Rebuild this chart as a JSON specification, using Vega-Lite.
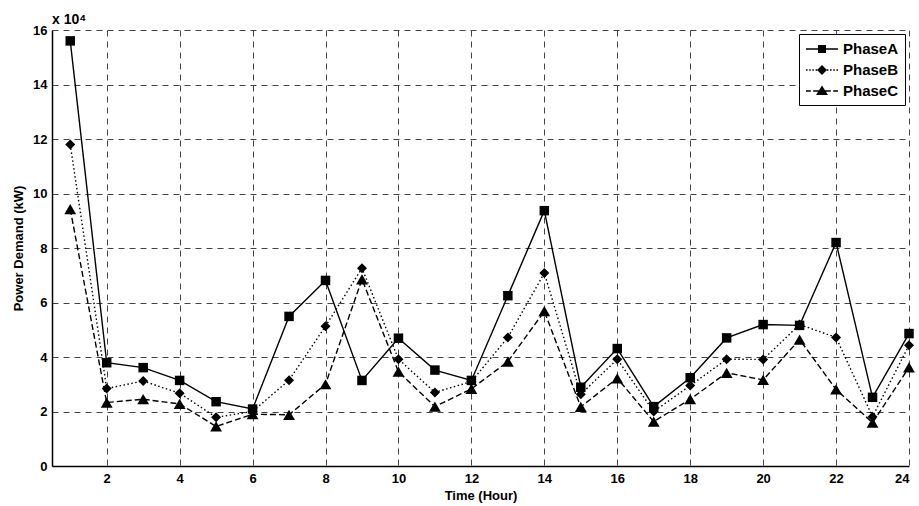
{
  "$schema": "https://vega.github.io/schema/vega-lite/v6.json",
  "width": 857,
  "height": 436,
  "autosize": "none",
  "padding": {"left": 52, "top": 30, "right": 10, "bottom": 40},
  "background": "white",
  "title": {"text": "x 10⁴", "anchor": "start", "frame": "group", "fontSize": 14, "fontWeight": "bold", "font": "Liberation Sans", "color": "black", "offset": -3},
  "config": {
    "view": {"stroke": null},
    "font": "Liberation Sans",
    "axis": {
      "labelFont": "Liberation Sans", "labelFontSize": 13, "labelFontWeight": "bold", "labelColor": "black",
      "titleFont": "Liberation Sans", "titleFontSize": 13, "titleFontWeight": "bold", "titleColor": "black",
      "domainColor": "black", "domainWidth": 1.5, "ticks": false,
      "grid": true, "gridDash": [6, 5], "gridColor": "#444", "gridWidth": 1, "gridOpacity": 1
    },
    "legend": {
      "labelFont": "Liberation Sans", "labelFontSize": 15, "labelFontWeight": "bold", "labelColor": "black"
    }
  },
  "data": {
    "values": [
      {"hour": 1, "phase": "PhaseA", "kW": 156000}, {"hour": 2, "phase": "PhaseA", "kW": 37900}, {"hour": 3, "phase": "PhaseA", "kW": 36100}, {"hour": 4, "phase": "PhaseA", "kW": 31400},
      {"hour": 5, "phase": "PhaseA", "kW": 23600}, {"hour": 6, "phase": "PhaseA", "kW": 20900}, {"hour": 7, "phase": "PhaseA", "kW": 54900}, {"hour": 8, "phase": "PhaseA", "kW": 68100},
      {"hour": 9, "phase": "PhaseA", "kW": 31400}, {"hour": 10, "phase": "PhaseA", "kW": 46900}, {"hour": 11, "phase": "PhaseA", "kW": 35200}, {"hour": 12, "phase": "PhaseA", "kW": 31400},
      {"hour": 13, "phase": "PhaseA", "kW": 62500}, {"hour": 14, "phase": "PhaseA", "kW": 93700}, {"hour": 15, "phase": "PhaseA", "kW": 28900}, {"hour": 16, "phase": "PhaseA", "kW": 43100},
      {"hour": 17, "phase": "PhaseA", "kW": 21800}, {"hour": 18, "phase": "PhaseA", "kW": 32400}, {"hour": 19, "phase": "PhaseA", "kW": 47000}, {"hour": 20, "phase": "PhaseA", "kW": 51900},
      {"hour": 21, "phase": "PhaseA", "kW": 51600}, {"hour": 22, "phase": "PhaseA", "kW": 82000}, {"hour": 23, "phase": "PhaseA", "kW": 25200}, {"hour": 24, "phase": "PhaseA", "kW": 48600},
      {"hour": 1, "phase": "PhaseB", "kW": 118000}, {"hour": 2, "phase": "PhaseB", "kW": 28400}, {"hour": 3, "phase": "PhaseB", "kW": 31200}, {"hour": 4, "phase": "PhaseB", "kW": 26700},
      {"hour": 5, "phase": "PhaseB", "kW": 17900}, {"hour": 6, "phase": "PhaseB", "kW": 20000}, {"hour": 7, "phase": "PhaseB", "kW": 31500}, {"hour": 8, "phase": "PhaseB", "kW": 51300},
      {"hour": 9, "phase": "PhaseB", "kW": 72600}, {"hour": 10, "phase": "PhaseB", "kW": 39200}, {"hour": 11, "phase": "PhaseB", "kW": 27000}, {"hour": 12, "phase": "PhaseB", "kW": 31000},
      {"hour": 13, "phase": "PhaseB", "kW": 47200}, {"hour": 14, "phase": "PhaseB", "kW": 70800}, {"hour": 15, "phase": "PhaseB", "kW": 26300}, {"hour": 16, "phase": "PhaseB", "kW": 39200},
      {"hour": 17, "phase": "PhaseB", "kW": 20000}, {"hour": 18, "phase": "PhaseB", "kW": 29500}, {"hour": 19, "phase": "PhaseB", "kW": 39200}, {"hour": 20, "phase": "PhaseB", "kW": 39100},
      {"hour": 21, "phase": "PhaseB", "kW": 51900}, {"hour": 22, "phase": "PhaseB", "kW": 47200}, {"hour": 23, "phase": "PhaseB", "kW": 18100}, {"hour": 24, "phase": "PhaseB", "kW": 44300},
      {"hour": 1, "phase": "PhaseC", "kW": 94300}, {"hour": 2, "phase": "PhaseC", "kW": 23300}, {"hour": 3, "phase": "PhaseC", "kW": 24500}, {"hour": 4, "phase": "PhaseC", "kW": 22800},
      {"hour": 5, "phase": "PhaseC", "kW": 14500}, {"hour": 6, "phase": "PhaseC", "kW": 19000}, {"hour": 7, "phase": "PhaseC", "kW": 18800}, {"hour": 8, "phase": "PhaseC", "kW": 30000},
      {"hour": 9, "phase": "PhaseC", "kW": 68500}, {"hour": 10, "phase": "PhaseC", "kW": 34600}, {"hour": 11, "phase": "PhaseC", "kW": 21800}, {"hour": 12, "phase": "PhaseC", "kW": 28300},
      {"hour": 13, "phase": "PhaseC", "kW": 38300}, {"hour": 14, "phase": "PhaseC", "kW": 56800}, {"hour": 15, "phase": "PhaseC", "kW": 21700}, {"hour": 16, "phase": "PhaseC", "kW": 32200},
      {"hour": 17, "phase": "PhaseC", "kW": 16300}, {"hour": 18, "phase": "PhaseC", "kW": 24500}, {"hour": 19, "phase": "PhaseC", "kW": 34200}, {"hour": 20, "phase": "PhaseC", "kW": 31600},
      {"hour": 21, "phase": "PhaseC", "kW": 46400}, {"hour": 22, "phase": "PhaseC", "kW": 28100}, {"hour": 23, "phase": "PhaseC", "kW": 15900}, {"hour": 24, "phase": "PhaseC", "kW": 36200}
    ]
  },
  "encoding": {
    "x": {
      "field": "hour", "type": "quantitative",
      "scale": {"domain": [0.5, 24], "nice": false, "zero": false},
      "axis": {"values": [2, 4, 6, 8, 10, 12, 14, 16, 18, 20, 22, 24], "title": "Time (Hour)", "labelPadding": 6, "titlePadding": 4}
    },
    "y": {
      "field": "kW", "type": "quantitative",
      "scale": {"domain": [0, 160000], "nice": false},
      "axis": {"values": [0, 20000, 40000, 60000, 80000, 100000, 120000, 140000, 160000], "labelExpr": "datum.value / 10000", "title": "Power Demand (kW)", "labelPadding": 5, "titlePadding": 7}
    }
  },
  "layer": [
    {
      "transform": [{"filter": "datum.phase === 'PhaseC'"}],
      "mark": {"type": "line", "color": "black", "strokeWidth": 1.4, "strokeDash": [6, 3],
               "point": {"filled": true, "color": "black", "shape": "triangle-up", "size": 140, "opacity": 1}}
    },
    {
      "transform": [{"filter": "datum.phase === 'PhaseB'"}],
      "mark": {"type": "line", "color": "black", "strokeWidth": 1.4, "strokeDash": [1.5, 2.5],
               "point": {"filled": true, "color": "black", "shape": "diamond", "size": 100, "opacity": 1}}
    },
    {
      "transform": [{"filter": "datum.phase === 'PhaseA'"}],
      "mark": {"type": "line", "color": "black", "strokeWidth": 1.4,
               "point": {"filled": true, "color": "black", "shape": "square", "size": 90, "opacity": 1}}
    },
    {
      "transform": [{"filter": "datum.hour > 100"}],
      "mark": {"type": "point", "filled": true, "color": "black", "fill": "black", "opacity": 1},
      "encoding": {
        "shape": {
          "field": "phase", "type": "nominal",
          "scale": {
            "domain": ["PhaseA", "PhaseB", "PhaseC"],
            "range": [
              "M-1,-0.09L3,-0.09L3,0.09L-1,0.09ZM0.5,-0.5L1.5,-0.5L1.5,0.5L0.5,0.5Z",
              "M-1,-0.09L-0.81,-0.09L-0.81,0.09L-1,0.09ZM-0.6,-0.09L-0.41,-0.09L-0.41,0.09L-0.6,0.09ZM-0.2,-0.09L-0.01,-0.09L-0.01,0.09L-0.2,0.09ZM0.2,-0.09L0.39,-0.09L0.39,0.09L0.2,0.09ZM1.61,-0.09L1.8,-0.09L1.8,0.09L1.61,0.09ZM2.01,-0.09L2.2,-0.09L2.2,0.09L2.01,0.09ZM2.41,-0.09L2.6,-0.09L2.6,0.09L2.41,0.09ZM2.81,-0.09L3,-0.09L3,0.09L2.81,0.09ZM1,-0.62L1.62,0L1,0.62L0.38,0Z",
              "M-1,-0.09L-0.4,-0.09L-0.4,0.09L-1,0.09ZM-0.1,-0.09L0.6,-0.09L0.6,0.09L-0.1,0.09ZM1.4,-0.09L2.1,-0.09L2.1,0.09L1.4,0.09ZM2.4,-0.09L3,-0.09L3,0.09L2.4,0.09ZM1,-0.7L1.75,0.5L0.25,0.5Z"
            ]
          },
          "legend": {
            "title": null, "orient": "top-right", "offset": 4,
            "strokeColor": "black", "fillColor": "white", "padding": 6,
            "symbolSize": 256, "symbolFillColor": "black",
            "labelOffset": 20, "rowPadding": 4
          }
        }
      }
    }
  ]
}
